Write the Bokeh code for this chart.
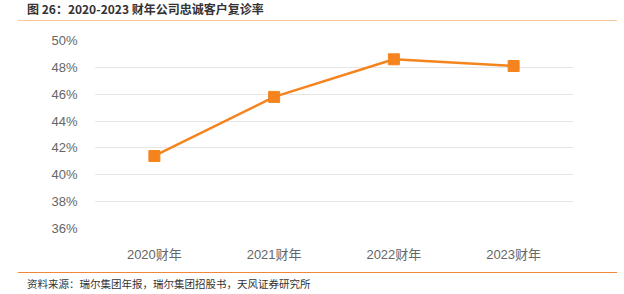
from bokeh.plotting import figure
from bokeh.models import Div, FactorRange, Range1d, NumeralTickFormatter, FixedTicker
from bokeh.layouts import column
from bokeh.embed import file_html
from bokeh.resources import INLINE

title_text = "图 26：2020-2023 财年公司忠诚客户复诊率"
source_text = "资料来源：瑞尔集团年报，瑞尔集团招股书，天风证券研究所"
years = ["2020财年", "2021财年", "2022财年", "2023财年"]
rates = [0.414, 0.458, 0.486, 0.481]
y_ticks = [0.36, 0.38, 0.40, 0.42, 0.44, 0.46, 0.48, 0.50]

FONT = "'Noto Sans CJK SC', 'Liberation Sans', sans-serif"
AXFONT = "Liberation Sans, Noto Sans CJK SC, sans-serif"

title = Div(
    text=title_text, width=599, height=21,
    styles={"font-family": FONT, "font-size": "12px", "font-weight": "bold",
            "color": "#333333", "border-bottom": "1.5px solid #f8c898",
            "padding-left": "9px", "line-height": "18px", "box-sizing": "border-box"},
    margin=(0, 0, 0, 18),
)

p = figure(
    x_range=FactorRange(*years), y_range=Range1d(0.36, 0.50),
    width=624, height=251, output_backend="svg", toolbar_location=None,
    min_border_left=94, min_border_right=51, min_border_top=19, min_border_bottom=44,
    margin=(0, 0, 0, 0),
)
p.outline_line_color = None
p.xgrid.grid_line_color = None
p.ygrid.grid_line_color = "#e6e6e6"
p.ygrid.grid_line_width = 1.2
p.yaxis.ticker = FixedTicker(ticks=y_ticks)
p.yaxis.formatter = NumeralTickFormatter(format="0%")
for ax in (p.xaxis, p.yaxis):
    ax.axis_line_color = None
    ax.major_tick_line_color = None
    ax.minor_tick_line_color = None
    ax.major_label_text_color = "#666666"
    ax.major_label_text_font = AXFONT
    ax.major_label_text_font_size = "13px"
p.yaxis.major_label_standoff = 11
p.xaxis.major_label_standoff = 12

p.line(years, rates, line_color="#f5841f", line_width=2.5)
p.scatter(years, rates, marker="square", size=11, fill_color="#f5841f", line_color="#f5841f")

footer = Div(
    text=source_text, width=599, height=22,
    styles={"font-family": FONT, "font-size": "10.5px", "color": "#333333",
            "border-top": "1px solid #f0883a", "padding-left": "9px",
            "padding-top": "4px", "box-sizing": "border-box", "line-height": "13px"},
    margin=(0, 0, 0, 18),
)

layout = column(title, p, footer, spacing=0, margin=(0, 0, 0, 0))
open("out.html", "w").write(file_html(layout, INLINE))
